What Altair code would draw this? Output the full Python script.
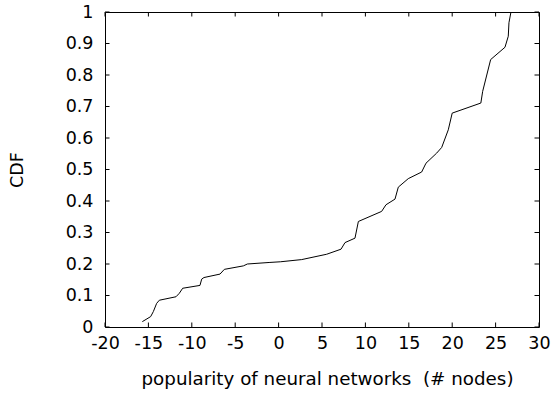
import altair as alt
import pandas as pd

# CDF curve
cdf_x = [-15.7, -14.74, -14.43, -14.05, -13.74, -11.82, -11.44, -11.05, -9.06, -8.86,
         -8.6, -6.75, -6.25, -4.06, -3.6, -1.0, 0.2, 2.66, 5.54, 7.19,
         7.65, 8.8, 9.19, 11.87, 12.37, 13.41, 13.79, 14.94, 16.48, 16.98,
         18.21, 18.79, 19.55, 20.0, 23.3, 23.51, 24.43, 26.08, 26.46, 26.54, 26.77]
cdf_y = [0.017, 0.033, 0.049, 0.075, 0.085, 0.096, 0.107, 0.123, 0.132, 0.152,
         0.157, 0.168, 0.183, 0.194, 0.200, 0.205, 0.207, 0.214, 0.231, 0.247,
         0.268, 0.282, 0.335, 0.367, 0.388, 0.406, 0.444, 0.471, 0.492, 0.520,
         0.552, 0.570, 0.626, 0.679, 0.711, 0.748, 0.849, 0.888, 0.923, 0.966, 1.0]

x_ticks = [-20, -15, -10, -5, 0, 5, 10, 15, 20, 25, 30]
y_ticks = [0, 0.1, 0.2, 0.3, 0.4, 0.5, 0.6, 0.7, 0.8, 0.9, 1]

W, H = 434, 315
TICK = 4.5
FONT = "DejaVu Sans"

df = pd.DataFrame({"x": cdf_x, "y": cdf_y, "i": list(range(len(cdf_x)))})
xt = pd.DataFrame({"x": x_ticks})
yt = pd.DataFrame({"y": y_ticks})

xs = alt.Scale(domain=[-20, 30], nice=False, zero=False)
ys = alt.Scale(domain=[0, 1], nice=False, zero=False)

x_axis = alt.Axis(
    values=x_ticks, title="popularity of neural networks \u00a0(# nodes)",
    labelExpr="'' + datum.value", labelPadding=7,
    labelFlush=False, labelOverlap=False, labelBound=False,
    titleY=57, titleBaseline="alphabetic", titleX=W / 2 + 5, titleAlign="center",
    titleFontSize=18.3)
y_axis = alt.Axis(
    values=y_ticks, title="CDF",
    labelExpr="format(datum.value, '.1~f')", labelPadding=12,
    labelFlush=False, labelOverlap=False, labelBound=False,
    titleX=-87.5, titleY=H / 2, titleBaseline="middle", titleAlign="center",
    titleAngle=270)

line = alt.Chart(df).mark_line(color="black", strokeWidth=1).encode(
    x=alt.X("x:Q", scale=xs, axis=x_axis),
    y=alt.Y("y:Q", scale=ys, axis=y_axis),
    order="i:Q",
)

bottom = alt.Chart(xt).mark_rule(color="black", strokeWidth=1).encode(
    x=alt.X("x:Q", scale=xs, axis=x_axis), y=alt.value(H), y2=alt.value(H - TICK))
top = alt.Chart(xt).mark_rule(color="black", strokeWidth=1).encode(
    x=alt.X("x:Q", scale=xs, axis=x_axis), y=alt.value(0), y2=alt.value(TICK))
left = alt.Chart(yt).mark_rule(color="black", strokeWidth=1).encode(
    y=alt.Y("y:Q", scale=ys, axis=y_axis), x=alt.value(0), x2=alt.value(TICK))
right = alt.Chart(yt).mark_rule(color="black", strokeWidth=1).encode(
    y=alt.Y("y:Q", scale=ys, axis=y_axis), x=alt.value(W), x2=alt.value(W - TICK))

chart = alt.layer(line, bottom, top, left, right).properties(
    width=W, height=H,
    autosize=alt.AutoSizeParams(type="none"),
    padding={"left": 105, "top": 12, "right": 18, "bottom": 66},
    background="white",
).configure_view(
    stroke="black", strokeWidth=1
).configure_axis(
    domain=False, ticks=False, tickSize=0, grid=False,
    labelFont=FONT, labelFontSize=17.5, labelColor="black",
    titleFont=FONT, titleFontSize=17.5, titleFontWeight="normal", titleColor="black",
)

chart.save("out.html", embed_options={"renderer": "svg", "actions": False})
